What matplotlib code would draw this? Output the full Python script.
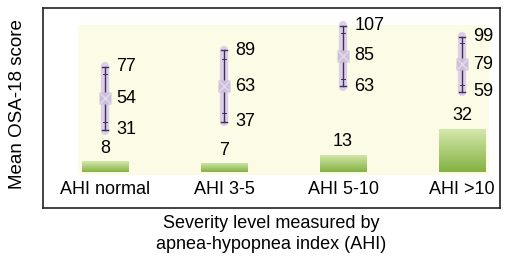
import numpy as np
import matplotlib
matplotlib.use("Agg")
import matplotlib.pyplot as plt
from matplotlib.patches import Rectangle

plt.rcParams['font.family'] = ['Liberation Sans', 'DejaVu Sans']

categories = ['AHI normal', 'AHI 3-5', 'AHI 5-10', 'AHI >10']
n_patients = [8, 7, 13, 32]
score_mean = [54, 63, 85, 79]
score_low = [31, 37, 63, 59]
score_high = [77, 89, 107, 99]

x = np.arange(len(categories))

fig = plt.figure(figsize=(5.08, 2.66), dpi=100)
ax = fig.add_axes([43 / 508, 1 - 208 / 266, 457 / 508, 200 / 266])
ax.set_xlim(-0.521, 3.319)
ax.set_ylim(-26, 120)

# cream plot background
ax.add_patch(Rectangle((-0.227, -1.8), 3.454, 109.5, facecolor='#fcfce6',
                       edgecolor='none', zorder=0))

# green gradient bars
grad = np.linspace(0, 1, 64).reshape(-1, 1)
cmap = matplotlib.colors.LinearSegmentedColormap.from_list('g', ['#84b243', '#d6e9ae'])
bars = ax.bar(x, n_patients, width=0.39, color='none', edgecolor='none', zorder=2)
for b, n in zip(bars, n_patients):
    im = ax.imshow(grad, cmap=cmap, aspect='auto', origin='lower', zorder=2,
                   extent=(b.get_x(), b.get_x() + b.get_width(), 0, n))
    im.set_clip_path(b)
    ax.annotate(str(n), (b.get_x() + b.get_width() / 2, n), xytext=(0, 3),
                textcoords='offset points', ha='center', va='bottom', fontsize=13)

# score ranges
for xi, lo, m, hi in zip(x, score_low, score_mean, score_high):
    ax.plot([xi, xi], [lo - 0.5, hi + 0.5], color='#d9cce9', lw=6, alpha=0.9,
            solid_capstyle='round', zorder=3)
    ax.plot([xi, xi], [lo, hi], color='#3e2f5c', lw=1, zorder=4)
    for v in (lo, hi):
        ax.plot([xi - 0.022, xi + 0.022], [v, v], color='#3e2f5c', lw=1, zorder=4)
    for v in (lo + 0.12 * (hi - lo), hi - 0.12 * (hi - lo)):
        ax.plot([xi - 0.015, xi + 0.015], [v, v], color='#3e2f5c', lw=0.7, zorder=4)
    ax.plot(xi, m, marker='s', ms=8, color='#cdc0dc', mec='none', zorder=5)
    ax.plot(xi, m, marker='x', ms=7, color='#e4dcea', mew=1, zorder=6)
    for v in (lo, m, hi):
        ax.annotate(str(v), (xi, v), xytext=(8, 0), textcoords='offset points',
                    ha='left', va='center', fontsize=13)

# category labels inside frame
for xi, c in zip(x, categories):
    ax.text(xi, -12.8, c, ha='center', va='center', fontsize=13)

ax.set_xticks([])
ax.set_yticks([])
for s in ax.spines.values():
    s.set_linewidth(1.2)
    s.set_color('#222222')

ax.set_xlabel('Severity level measured by\napnea-hypopnea index (AHI)',
              fontsize=13, labelpad=5, linespacing=1.3)
fig.text(18 / 508, 1 - 104 / 266, 'Mean OSA-18 score', rotation=90,
         ha='center', va='center', fontsize=13.5)

fig.savefig('out.png', dpi=100)
